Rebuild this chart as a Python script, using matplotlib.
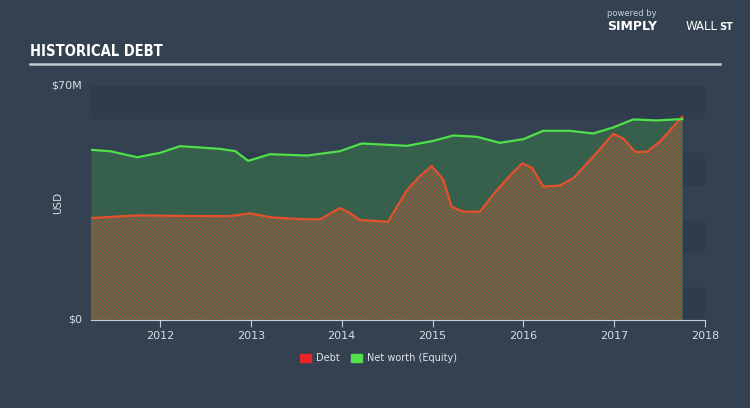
import matplotlib
matplotlib.use("Agg")
import matplotlib.pyplot as plt

# decimal years and values in $M
debt_x = [2011.24, 2011.75, 2012.33, 2012.77, 2012.99, 2013.23, 2013.54, 2013.76, 2013.98,
          2014.09, 2014.20, 2014.51, 2014.72, 2014.86, 2014.99, 2015.12, 2015.21, 2015.34,
          2015.52, 2015.71, 2015.88, 2015.99, 2016.10, 2016.22, 2016.40, 2016.55, 2016.77,
          2016.99, 2017.10, 2017.23, 2017.36, 2017.50, 2017.75]
debt = [30.5, 31.3, 31.1, 31.1, 31.9, 30.7, 30.2, 30.1, 33.5,
        32.0, 29.9, 29.4, 38.9, 43.0, 46.1, 41.9, 33.9, 32.4,
        32.4, 38.9, 44.0, 46.9, 45.4, 39.9, 40.2, 42.4, 48.9,
        55.7, 54.3, 50.3, 50.3, 53.3, 60.8]

equity_x = [2011.24, 2011.45, 2011.75, 2012.0, 2012.22, 2012.66, 2012.83, 2012.97, 2013.21,
            2013.62, 2013.98, 2014.22, 2014.72, 2015.01, 2015.23, 2015.49, 2015.74, 2016.0,
            2016.22, 2016.51, 2016.77, 2016.99, 2017.21, 2017.47, 2017.75]
equity = [50.9, 50.5, 48.7, 50.0, 52.0, 51.2, 50.5, 47.6, 49.6,
          49.2, 50.5, 52.8, 52.1, 53.6, 55.2, 54.8, 53.0, 54.1,
          56.6, 56.6, 55.8, 57.6, 60.0, 59.7, 60.1]

years = [2012, 2013, 2014, 2015, 2016, 2017, 2018]

BG = "#334151"
plt.rcParams['hatch.linewidth'] = 0.8

fig = plt.figure(figsize=(7.5, 4.08), dpi=100)
fig.patch.set_facecolor(BG)
ax = fig.add_axes([91/750, 1-320/408, (705-91)/750, (320-86)/408])
ax.set_facecolor(BG)
ax.set_xlim(2011.24, 2018.0)
ax.set_ylim(0, 70)

# alternating bands
for lo in [0, 20, 40, 60]:
    ax.axhspan(lo, lo+10, color="#2c394a", alpha=0.5, lw=0, zorder=0)

ax.fill_between(equity_x, equity, 0, color="#36604c", lw=0, zorder=1)
ax.fill_between(debt_x, debt, 0, facecolor="#466a4d", edgecolor="#a9523c",
                hatch="/" * 9, lw=0, zorder=2)
ax.plot(equity_x, equity, color="#4fe04a", lw=1.6, zorder=4)
ax.plot(debt_x, debt, color="#e4502c", lw=1.6, zorder=3)

for s in ["top", "right", "left"]:
    ax.spines[s].set_visible(False)
ax.spines["bottom"].set_color("#c8ced6")
ax.set_yticks([])
ax.set_xticks(years)
ax.set_xticklabels([str(y) for y in years])
ax.tick_params(axis="x", colors="#c8ced6", labelcolor="#d8dce0", labelsize=8,
               length=5, direction="out", pad=3)

fig.text(82/750, 1-86/408, "$70M", color="#d8dce0", fontsize=8, ha="right", va="center")
fig.text(82/750, 1-320/408, "$0", color="#d8dce0", fontsize=8, ha="right", va="center")
fig.text(58/750, 1-203/408, "USD", color="#d8dce0", fontsize=7.5, rotation=90,
         ha="center", va="center")

fig.text(30/750, 1-52/408, "HISTORICAL DEBT", color="white", fontsize=10.5,
         fontweight="bold", fontstretch="condensed",
         family=["DejaVu Sans Condensed", "Liberation Sans Narrow", "DejaVu Sans"], va="center")
fig.add_artist(plt.Line2D([30/750, 720/750], [1-64/408, 1-64/408], color="#c0c8d0", lw=1.8))

fig.text(607/750, 1-14/408, "powered by", color="#c8ced6", fontsize=6, va="center")
fig.text(607/750, 1-27/408, "SIMPLY", color="white", fontsize=9, fontweight="bold", va="center")
fig.text(686/750, 1-27/408, "WALL", color="white", fontsize=8.5, va="center")
fig.text(719/750, 1-27/408, "ST", color="white", fontsize=7, fontweight="bold", va="center")

# legend
fig.patches.append(plt.Rectangle((300/750, 1-362/408), 11/750, 8/408, color="#e8262a",
                                 transform=fig.transFigure))
fig.text(316/750, 1-358/408, "Debt", color="#e0e4e8", fontsize=7, va="center")
fig.patches.append(plt.Rectangle((351/750, 1-362/408), 11/750, 8/408, color="#4fe04a",
                                 transform=fig.transFigure))
fig.text(367/750, 1-358/408, "Net worth (Equity)", color="#e0e4e8", fontsize=7, va="center")

fig.savefig("out.png", dpi=100, facecolor=BG)
